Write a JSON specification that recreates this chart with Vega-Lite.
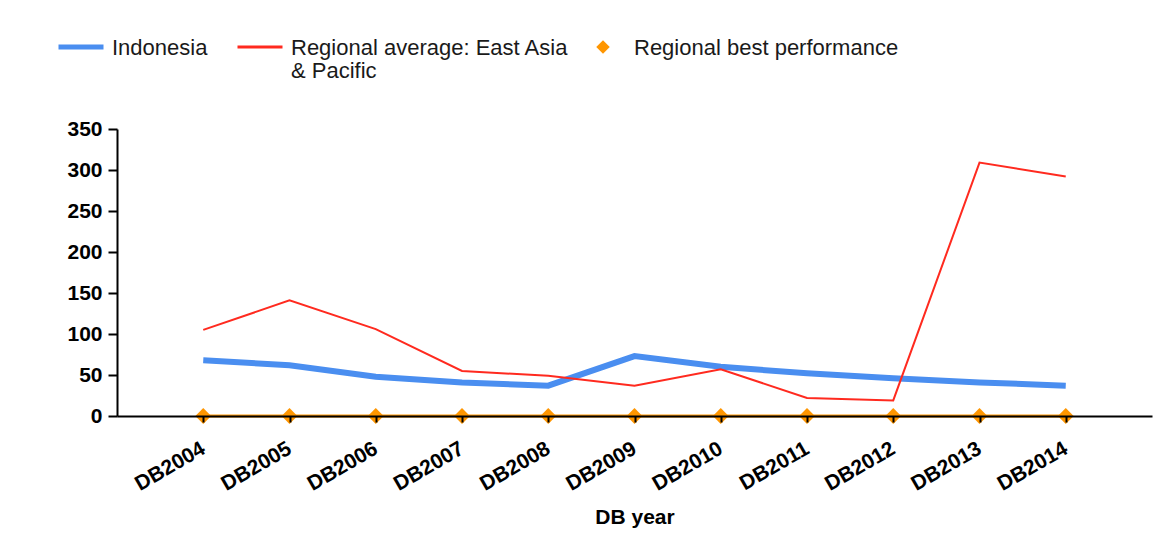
{
  "$schema": "https://vega.github.io/schema/vega-lite/v6.json",
  "width": 1035,
  "height": 287,
  "autosize": {"type": "none"},
  "padding": {"left": 117, "top": 129, "right": 23, "bottom": 134},
  "background": "white",
  "config": {"view": {"stroke": null}, "font": "Liberation Sans"},
  "data": {
    "values": [
      {"year": "DB2004", "series": "Indonesia", "value": 68},
      {"year": "DB2005", "series": "Indonesia", "value": 62},
      {"year": "DB2006", "series": "Indonesia", "value": 48},
      {"year": "DB2007", "series": "Indonesia", "value": 41},
      {"year": "DB2008", "series": "Indonesia", "value": 37},
      {"year": "DB2009", "series": "Indonesia", "value": 73},
      {"year": "DB2010", "series": "Indonesia", "value": 60},
      {"year": "DB2011", "series": "Indonesia", "value": 52},
      {"year": "DB2012", "series": "Indonesia", "value": 46},
      {"year": "DB2013", "series": "Indonesia", "value": 41},
      {"year": "DB2014", "series": "Indonesia", "value": 37},
      {"year": "DB2004", "series": "Regional average: East Asia & Pacific", "value": 105},
      {"year": "DB2005", "series": "Regional average: East Asia & Pacific", "value": 141},
      {"year": "DB2006", "series": "Regional average: East Asia & Pacific", "value": 106},
      {"year": "DB2007", "series": "Regional average: East Asia & Pacific", "value": 55},
      {"year": "DB2008", "series": "Regional average: East Asia & Pacific", "value": 49},
      {"year": "DB2009", "series": "Regional average: East Asia & Pacific", "value": 37},
      {"year": "DB2010", "series": "Regional average: East Asia & Pacific", "value": 57},
      {"year": "DB2011", "series": "Regional average: East Asia & Pacific", "value": 22},
      {"year": "DB2012", "series": "Regional average: East Asia & Pacific", "value": 19},
      {"year": "DB2013", "series": "Regional average: East Asia & Pacific", "value": 309},
      {"year": "DB2014", "series": "Regional average: East Asia & Pacific", "value": 292},
      {"year": "DB2004", "series": "Regional best performance", "value": 0},
      {"year": "DB2005", "series": "Regional best performance", "value": 0},
      {"year": "DB2006", "series": "Regional best performance", "value": 0},
      {"year": "DB2007", "series": "Regional best performance", "value": 0},
      {"year": "DB2008", "series": "Regional best performance", "value": 0},
      {"year": "DB2009", "series": "Regional best performance", "value": 0},
      {"year": "DB2010", "series": "Regional best performance", "value": 0},
      {"year": "DB2011", "series": "Regional best performance", "value": 0},
      {"year": "DB2012", "series": "Regional best performance", "value": 0},
      {"year": "DB2013", "series": "Regional best performance", "value": 0},
      {"year": "DB2014", "series": "Regional best performance", "value": 0}
    ]
  },
  "encoding": {
    "x": {
      "field": "year",
      "type": "ordinal",
      "scale": {"type": "point", "padding": 1},
      "title": "DB year",
      "axis": {
        "zindex": 1,
        "domainColor": "#000000",
        "domainWidth": 2,
        "tickColor": "#000000",
        "tickWidth": 2,
        "tickSize": 6,
        "labelAngle": -30,
        "labelAlign": "right",
        "labelBaseline": "middle",
        "labelFontSize": 21,
        "labelFontWeight": "bold",
        "labelColor": "#000000",
        "labelPadding": 25,
        "titleFontSize": 21,
        "titleFontWeight": "bold",
        "titleColor": "#000000",
        "titlePadding": 12,
        "grid": false
      }
    },
    "y": {
      "field": "value",
      "type": "quantitative",
      "scale": {"domain": [0, 350], "nice": false, "zero": true},
      "title": null,
      "axis": {
        "values": [0, 50, 100, 150, 200, 250, 300, 350],
        "zindex": 1,
        "domainColor": "#000000",
        "domainWidth": 2,
        "tickColor": "#000000",
        "tickWidth": 2,
        "tickSize": 9,
        "labelFontSize": 21,
        "labelFontWeight": "bold",
        "labelColor": "#000000",
        "labelPadding": 6,
        "grid": false
      }
    },
    "color": {
      "field": "series",
      "type": "nominal",
      "scale": {
        "domain": ["Indonesia", "Regional average: East Asia & Pacific", "Regional best performance"],
        "range": ["#4a8ef0", "#ff2a1f", "#ff9600"]
      },
      "legend": {
        "title": null,
        "orient": "none",
        "legendX": -47,
        "legendY": -93,
        "direction": "horizontal",
        "padding": 0,
        "symbolType": "stroke",
        "symbolSize": 2025,
        "symbolStrokeWidth": 5,
        "labelFontSize": 22,
        "labelColor": "#1a1a1a",
        "labelOffset": 20,
        "labelLimit": 400,
        "labelBaseline": "top",
        "columnPadding": 23,
        "labelExpr": "datum.label == 'Regional average: East Asia & Pacific' ? ['Regional average: East Asia', '& Pacific'] : [datum.label, '']",
        "encode": {
          "symbols": {
            "update": {
              "shape": {"signal": "datum.value === 'Regional best performance' ? 'M0,-0.3L0.3,0L0,0.3L-0.3,0Z' : 'stroke'"},
              "strokeWidth": {"signal": "datum.value === 'Indonesia' ? 5 : datum.value === 'Regional best performance' ? 0 : 3"},
              "fill": {"signal": "datum.value === 'Regional best performance' ? '#ff9600' : 'transparent'"},
              "stroke": {"scale": "color", "field": "value"},
              "opacity": {"value": 1}
            }
          },
          "labels": {
            "update": {
              "dy": {"value": -9},
              "lineHeight": {"value": 23}
            }
          }
        }
      }
    }
  },
  "layer": [
    {
      "transform": [{"filter": "datum.series == 'Regional best performance'"}],
      "mark": {"type": "line", "strokeWidth": 3}
    },
    {
      "transform": [{"filter": "datum.series == 'Regional best performance'"}],
      "mark": {"type": "point", "shape": "diamond", "filled": true, "size": 250, "opacity": 1}
    },
    {
      "transform": [{"filter": "datum.series == 'Indonesia'"}],
      "mark": {"type": "line", "strokeWidth": 6}
    },
    {
      "transform": [{"filter": "datum.series == 'Regional average: East Asia & Pacific'"}],
      "mark": {"type": "line", "strokeWidth": 2}
    }
  ]
}
